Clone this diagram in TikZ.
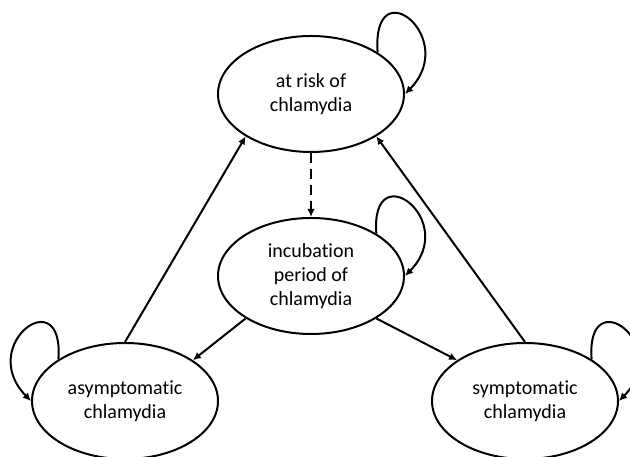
\documentclass[tikz,border=0pt]{standalone}
\usepackage{fontspec}
\setmainfont[Ligatures={NoCommon}]{Carlito}
\usetikzlibrary{shapes.geometric,arrows.meta}

\begin{document}
\begin{tikzpicture}[x=1pt,y=1pt,
        stage/.style={draw,ellipse,line width=2pt,inner sep=0pt,align=center,
            minimum width=186pt,minimum height=116pt,font=\fontsize{20}{24}\selectfont},
        flow/.style={line width=2pt,-{Latex[length=8pt,width=7.5pt]}}]
        \useasboundingbox (0,0) rectangle (630,457);
        \node[stage] (R) at (311,363) {at risk of\\chlamydia};
        \node[stage] (I) at (311,181) {incubation\\period of\\chlamydia};
        \node[stage] (A) at (125,56) {asymptomatic\\chlamydia};
        \node[stage] (S) at (525,56) {symptomatic\\chlamydia};
        \draw[flow,dash pattern=on 10pt off 6pt] (R) -- (I);
        \draw[flow] (I.213) -- (A.31);
        \draw[flow] (I.327) -- (S.149);
        \draw[flow] (A.north) -- (R.213);
        \draw[flow] (S.north) -- (R.327);
        % self loops
        \draw[flow] (R.32) .. controls +(-6,85) and +(55,56) .. (R.0);
        \draw[flow] (I.33) .. controls +(-6,80) and +(55,56) .. (I.0);
        \draw[flow] (A.148) .. controls +(6,80) and +(-55,56) .. (A.180);
        \draw[flow] (S.32) .. controls +(-6,80) and +(55,56) .. (S.0);
\end{tikzpicture}
\end{document}
